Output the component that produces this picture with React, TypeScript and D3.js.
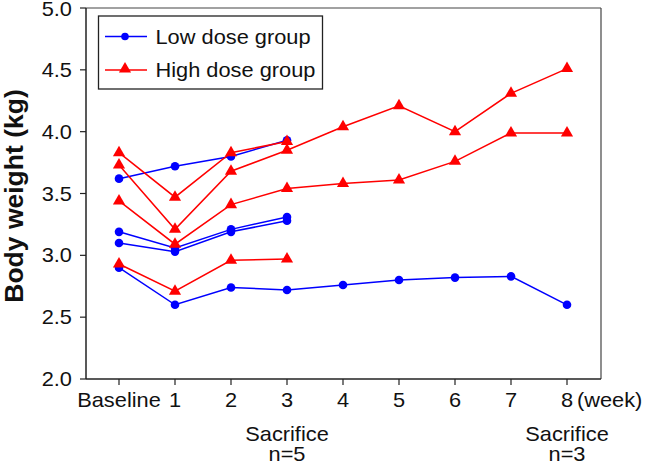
import React from "react";
import * as d3 from "d3";

const weeks = [0, 1, 2, 3, 4, 5, 6, 7, 8];
const tickLabels = ["Baseline", "1", "2", "3", "4", "5", "6", "7", "8"];
const yTicks = [2.0, 2.5, 3.0, 3.5, 4.0, 4.5, 5.0];

// Low dose group (blue circles)
const lowA = [3.62, 3.72, 3.80, 3.93];
const lowB = [3.19, 3.06, 3.21, 3.31];
const lowC = [3.10, 3.03, 3.19, 3.28];
const lowD = [2.90, 2.60, 2.74, 2.72, 2.76, 2.80, 2.82, 2.83, 2.60];

// High dose group (red triangles)
const highA = [3.83, 3.47, 3.83, 3.92];
const highB = [3.73, 3.21, 3.68, 3.85, 4.04, 4.21, 4.00, 4.31, 4.51];
const highC = [3.44, 3.09, 3.41, 3.54, 3.58, 3.61, 3.76, 3.99, 3.99];
const highD = [2.93, 2.71, 2.96, 2.97];

const lowSeries = [lowA, lowB, lowC, lowD];
const highSeries = [highA, highB, highC, highD];

const sacrificeNotes = [
  { week: 3, n: "n=5" },
  { week: 8, n: "n=3" },
];

const BLUE = "#0000ff";
const RED = "#ff0000";
const FS = 20;
const SX = 1.09;

function T({ x, y, anchor = "middle", children, size = FS, weight = "normal" }: any) {
  return (
    <text
      transform={`translate(${x},${y}) scale(${SX},1)`}
      textAnchor={anchor}
      fontSize={size}
      fontWeight={weight}
      fill="#111"
    >
      {children}
    </text>
  );
}

export default function App() {
  const W = 645;
  const H = 467;
  const left = 86, right = 601, top = 8, bottom = 379;
  const x = d3.scaleLinear().domain([0, 8]).range([119, 567]);
  const y = d3.scaleLinear().domain([2, 5]).range([bottom, top]);
  const line = d3
    .line<number>()
    .x((_, i) => x(weeks[i]))
    .y((d) => y(d));

  const tri = d3.symbol().type(d3.symbolTriangle).size(64)();

  return (
    <svg
      width={W}
      height={H}
      style={{ position: "absolute", left: 0, top: 0, background: "#fff" }}
      fontFamily="'Liberation Sans', Arial, Helvetica, sans-serif"
    >
      <rect x={0} y={0} width={W} height={H} fill="#fff" />
      {/* frame */}
      <line x1={left} x2={right} y1={top} y2={top} stroke="#444" strokeWidth={1.2} />
      <line x1={right} x2={right} y1={top} y2={bottom} stroke="#444" strokeWidth={1.2} />
      <line x1={left} x2={left} y1={top} y2={bottom} stroke="#222" strokeWidth={1.5} />
      <line x1={left} x2={right} y1={bottom} y2={bottom} stroke="#222" strokeWidth={1.5} />

      {/* y ticks */}
      {yTicks.map((t) => (
        <g key={t}>
          <line x1={left - 6} x2={left} y1={y(t)} y2={y(t)} stroke="#222" strokeWidth={1.2} />
          <T x={72} y={Math.max(y(t) + 7, 15.5)} anchor="end">{t.toFixed(1)}</T>
        </g>
      ))}

      {/* x ticks */}
      {weeks.map((w, i) => (
        <g key={w}>
          <line x1={x(w)} x2={x(w)} y1={bottom} y2={bottom + 6} stroke="#222" strokeWidth={1.2} />
          <T x={x(w)} y={407}>{tickLabels[i]}</T>
        </g>
      ))}
      <T x={x(8) + 10} y={407} anchor="start">(week)</T>

      {sacrificeNotes.map((s) => (
        <g key={s.week}>
          <T x={x(s.week)} y={441}>Sacrifice</T>
          <T x={x(s.week)} y={461}>{s.n}</T>
        </g>
      ))}

      {/* y title */}
      <text
        transform={`translate(23,196) rotate(-90)`}
        textAnchor="middle"
        fontSize={26.5}
        fontWeight="bold"
        fill="#111"
      >
        Body weight (kg)
      </text>

      {/* low dose */}
      {lowSeries.map((s, k) => (
        <g key={"l" + k}>
          <path d={line(s) || ""} fill="none" stroke={BLUE} strokeWidth={1.5} />
          {s.map((v, i) => (
            <circle key={i} cx={x(weeks[i])} cy={y(v)} r={4.3} fill={BLUE} />
          ))}
        </g>
      ))}

      {/* high dose */}
      {highSeries.map((s, k) => (
        <g key={"h" + k}>
          <path d={line(s) || ""} fill="none" stroke={RED} strokeWidth={1.5} />
          {s.map((v, i) => (
            <path key={i} d={tri || ""} transform={`translate(${x(weeks[i])},${y(v)})`} fill={RED} />
          ))}
        </g>
      ))}

      {/* legend */}
      <rect x={98.5} y={16} width={224} height={73} fill="#fff" stroke="#222" strokeWidth={1.3} />
      <line x1={105} x2={147} y1={36.5} y2={36.5} stroke={BLUE} strokeWidth={1.5} />
      <circle cx={125} cy={36.5} r={3.8} fill={BLUE} />
      <T x={155.5} y={44} anchor="start">Low dose group</T>
      <line x1={105} x2={147} y1={70} y2={70} stroke={RED} strokeWidth={1.5} />
      <path d={tri || ""} transform={`translate(125,69)`} fill={RED} />
      <T x={155.5} y={77} anchor="start">High dose group</T>
    </svg>
  );
}
